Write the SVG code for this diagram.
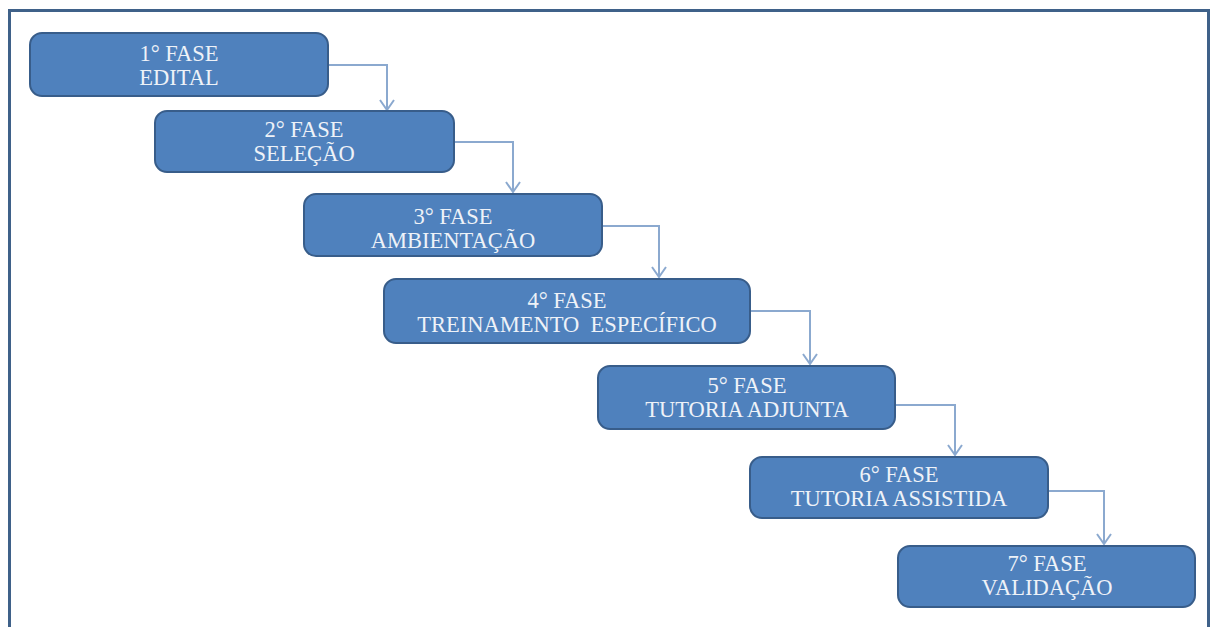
<svg xmlns="http://www.w3.org/2000/svg" width="1212" height="627" viewBox="0 0 1212 627">
  <defs>
    <style>
      .frame { fill: #ffffff; stroke: #3f6189; stroke-width: 3; }
      .box { fill: #4f81bd; stroke: #385d8a; stroke-width: 2; }
      .label { font-family: "Liberation Serif", "Times New Roman", serif; font-size: 22.5px; fill: #eef2f8; text-anchor: middle; }
      .link { fill: none; stroke: #8ba9cf; stroke-width: 2; }
    </style>
    <!-- open chevron head, drawn along +x so orient="auto" turns it with the line -->
    <marker id="open-arrow" viewBox="0 0 12 16" refX="11" refY="8" markerWidth="12" markerHeight="16" markerUnits="userSpaceOnUse" orient="auto">
      <path d="M1 1 L11 8 L1 15" fill="none" stroke="#8ba9cf" stroke-width="2"/>
    </marker>
  </defs>

  <rect x="0" y="0" width="1212" height="627" fill="#ffffff"/>
  <rect class="frame" x="9.5" y="10.5" width="1199" height="630"/>

  <!-- connectors between successive phases -->
  <g id="connectors">
    <path class="link" d="M328 65 H387 V110" marker-end="url(#open-arrow)"/>
    <path class="link" d="M454 142 H513 V192" marker-end="url(#open-arrow)"/>
    <path class="link" d="M602 226 H659 V277" marker-end="url(#open-arrow)"/>
    <path class="link" d="M750 311 H810 V364" marker-end="url(#open-arrow)"/>
    <path class="link" d="M895 405 H955 V455" marker-end="url(#open-arrow)"/>
    <path class="link" d="M1048 491 H1104 V544" marker-end="url(#open-arrow)"/>
  </g>

  <g id="fase1">
    <rect class="box" x="30" y="33" width="298" height="63" rx="12"/>
    <text class="label" x="179" y="61">1° FASE</text>
    <text class="label" x="179" y="85">EDITAL</text>
  </g>

  <g id="fase2">
    <rect class="box" x="155" y="111" width="299" height="61" rx="12"/>
    <text class="label" x="304" y="137">2° FASE</text>
    <text class="label" x="304" y="161">SELEÇÃO</text>
  </g>

  <g id="fase3">
    <rect class="box" x="304" y="194" width="298" height="62" rx="12"/>
    <text class="label" x="453" y="224">3° FASE</text>
    <text class="label" x="453" y="248">AMBIENTAÇÃO</text>
  </g>

  <g id="fase4">
    <rect class="box" x="384" y="279" width="366" height="64" rx="12"/>
    <text class="label" x="567" y="308">4° FASE</text>
    <text class="label" x="567" y="332" xml:space="preserve">TREINAMENTO  ESPECÍFICO</text>
  </g>

  <g id="fase5">
    <rect class="box" x="598" y="366" width="297" height="63" rx="12"/>
    <text class="label" x="747" y="393">5° FASE</text>
    <text class="label" x="747" y="417">TUTORIA ADJUNTA</text>
  </g>

  <g id="fase6">
    <rect class="box" x="750" y="457" width="298" height="61" rx="12"/>
    <text class="label" x="899" y="482">6° FASE</text>
    <text class="label" x="899" y="506">TUTORIA ASSISTIDA</text>
  </g>

  <g id="fase7">
    <rect class="box" x="898" y="546" width="297" height="61" rx="12"/>
    <text class="label" x="1047" y="571">7° FASE</text>
    <text class="label" x="1047" y="595">VALIDAÇÃO</text>
  </g>
</svg>
